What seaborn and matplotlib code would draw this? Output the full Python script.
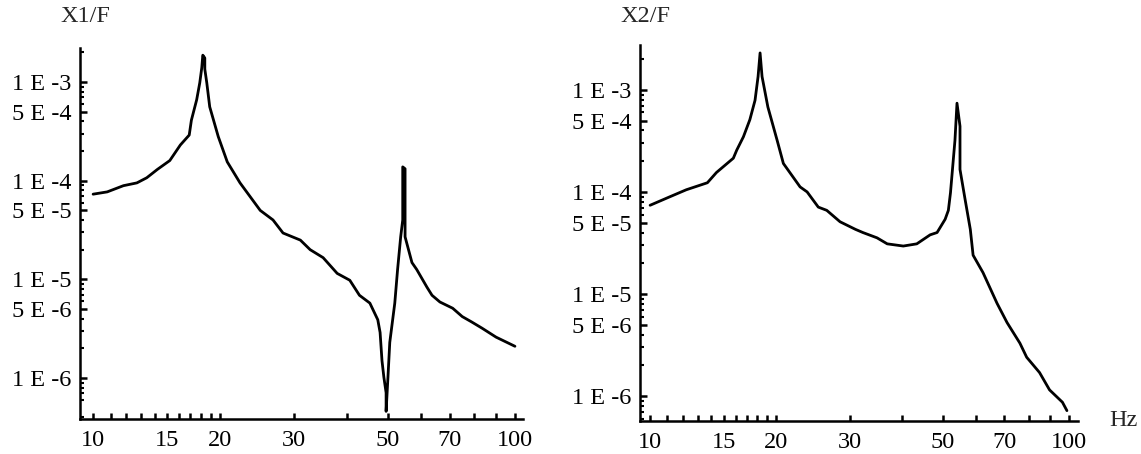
import numpy as np
import pandas as pd
import matplotlib
matplotlib.use("Agg")
import matplotlib.pyplot as plt
import seaborn as sns
from matplotlib.ticker import FixedLocator, FixedFormatter, NullFormatter

# ---- data (frequency in Hz, amplitude ratio) ----
f1 = [10.0, 10.8, 11.8, 12.7, 13.4, 14.2, 15.2, 16.1, 16.9, 17.1, 17.6, 17.9, 18.1, 18.2,
      18.4, 18.4, 18.6, 18.9, 19.8, 20.8, 22.3, 24.9, 26.7, 28.2, 31.0, 32.7, 35.1, 37.9,
      40.6, 42.8, 45.3, 47.3, 47.9, 48.4, 48.9, 49.5, 49.5, 50.0, 50.5, 51.9, 52.7, 53.6,
      54.2, 54.2, 54.9, 54.9, 57.0, 58.5, 61.9, 63.6, 66.4, 71.2, 75.0, 79.0, 83.6, 90.2, 100.0]
a1 = [7.3e-5, 7.7e-5, 8.9e-5, 9.5e-5, 1.07e-4, 1.3e-4, 1.6e-4, 2.3e-4, 2.9e-4, 4.1e-4,
      6.6e-4, 9.8e-4, 1.4e-3, 1.87e-3, 1.75e-3, 1.35e-3, 9.8e-4, 5.6e-4, 2.8e-4, 1.55e-4,
      9.5e-5, 5.0e-5, 4.0e-5, 2.95e-5, 2.5e-5, 2.0e-5, 1.66e-5, 1.15e-5, 9.8e-6, 6.9e-6,
      5.75e-6, 3.9e-6, 2.9e-6, 1.5e-6, 1.02e-6, 7.1e-7, 4.6e-7, 1.02e-6, 2.3e-6, 5.75e-6,
      1.26e-5, 2.7e-5, 4.0e-5, 1.38e-4, 1.32e-4, 2.7e-5, 1.48e-5, 1.26e-5, 8.3e-6, 6.9e-6,
      5.9e-6, 5.1e-6, 4.2e-6, 3.7e-6, 3.2e-6, 2.6e-6, 2.1e-6]

f2 = [10.0, 11.1, 12.2, 13.7, 14.4, 15.8, 16.1, 16.7, 17.3, 17.8, 18.1, 18.3, 18.5, 19.1,
      20.1, 20.8, 22.8, 23.7, 25.2, 26.4, 28.4, 30.9, 32.2, 34.8, 36.8, 40.2, 43.3, 46.6,
      48.4, 50.6, 51.5, 52.1, 52.6, 53.4, 54.0, 54.9, 54.9, 56.5, 58.1, 59.0, 62.3, 67.3,
      71.1, 76.3, 79.2, 85.0, 89.8, 96.4, 98.8]
a2 = [7.4e-5, 8.9e-5, 1.05e-4, 1.23e-4, 1.55e-4, 2.14e-4, 2.57e-4, 3.47e-4, 5.1e-4, 7.9e-4,
      1.35e-3, 2.3e-3, 1.35e-3, 6.8e-4, 3.2e-4, 1.9e-4, 1.12e-4, 1.0e-4, 7.1e-5, 6.6e-5,
      5.1e-5, 4.3e-5, 4.0e-5, 3.55e-5, 3.1e-5, 2.95e-5, 3.1e-5, 3.8e-5, 4.0e-5, 5.4e-5,
      6.6e-5, 9.8e-5, 1.55e-4, 3.2e-4, 7.4e-4, 4.4e-4, 1.66e-4, 8.3e-5, 4.3e-5, 2.4e-5,
      1.62e-5, 8.1e-6, 5.25e-6, 3.3e-6, 2.4e-6, 1.7e-6, 1.15e-6, 8.7e-7, 7.2e-7]

x_major = [10, 15, 20, 30, 50, 70, 100]
x_minor = [11, 12, 13, 14, 16, 17, 18, 19, 40, 60, 80, 90]
y_major = [1e-3, 5e-4, 1e-4, 5e-5, 1e-5, 5e-6, 1e-6]
y_major_labels = ["1 E -3", "5 E -4", "1 E -4", "5 E -5", "1 E -5", "5 E -6", "1 E -6"]
titles = ["X1/F", "X2/F"]

FS = 17.5
sns.set_style("white")
plt.rcParams["font.family"] = ["Liberation Serif", "DejaVu Serif"]
plt.rcParams["font.size"] = FS

fig = plt.figure(figsize=(11.41, 4.54), dpi=100)
ax1 = fig.add_axes([80 / 1141, 1 - 419 / 454, 443 / 1141, 371 / 454])
ax2 = fig.add_axes([640 / 1141, 1 - 421 / 454, 438 / 1141, 376 / 454])

df1 = pd.DataFrame({"f": f1, "a": a1})
df2 = pd.DataFrame({"f": f2, "a": a2})

limits = [((9.31, 104.5), (3.85e-7, 2.21e-3)), ((9.46, 105.0), (5.7e-7, 2.75e-3))]

for ax, df, (xl, yl) in zip([ax1, ax2], [df1, df2], limits):
    sns.lineplot(data=df, x="f", y="a", ax=ax, color="black", linewidth=2.0,
                 estimator=None, sort=False)
    ax.set_xscale("log")
    ax.set_yscale("log")
    ax.set_xlim(*xl)
    ax.set_ylim(*yl)
    ax.set_xlabel("")
    ax.set_ylabel("")
    for s in ["top", "right"]:
        ax.spines[s].set_visible(False)
    for s in ["left", "bottom"]:
        ax.spines[s].set_color("black")
        ax.spines[s].set_linewidth(1.8)
    ax.xaxis.set_major_locator(FixedLocator(x_major))
    ax.xaxis.set_major_formatter(FixedFormatter([str(v) for v in x_major]))
    ax.xaxis.set_minor_locator(FixedLocator(x_minor))
    ax.xaxis.set_minor_formatter(NullFormatter())
    y_minor = [m * 10.0 ** e for e in range(-7, -1) for m in range(2, 10) if m != 5]
    ax.yaxis.set_major_locator(FixedLocator(y_major))
    ax.yaxis.set_major_formatter(FixedFormatter(y_major_labels))
    ax.yaxis.set_minor_locator(FixedLocator(y_minor))
    ax.yaxis.set_minor_formatter(NullFormatter())
    ax.tick_params(axis="x", which="both", direction="in", length=4, width=1.8,
                   pad=8, colors="black", labelsize=FS, bottom=True, top=False)
    ax.tick_params(axis="y", which="major", direction="in", length=5, width=1.8,
                   pad=6, colors="black", labelsize=FS, left=True, right=False)
    ax.tick_params(axis="y", which="minor", direction="in", length=3, width=1.5,
                   colors="black", left=True, right=False)
    ax.grid(False)

fig.text(85 / 1141, 1 - 16 / 454, titles[0], ha="center", va="center", fontsize=FS)
fig.text(645 / 1141, 1 - 16 / 454, titles[1], ha="center", va="center", fontsize=FS)
fig.text(1123 / 1141, 1 - 420 / 454, "Hz", ha="center", va="center", fontsize=FS)

fig.savefig("out.png", dpi=100, facecolor="white")
